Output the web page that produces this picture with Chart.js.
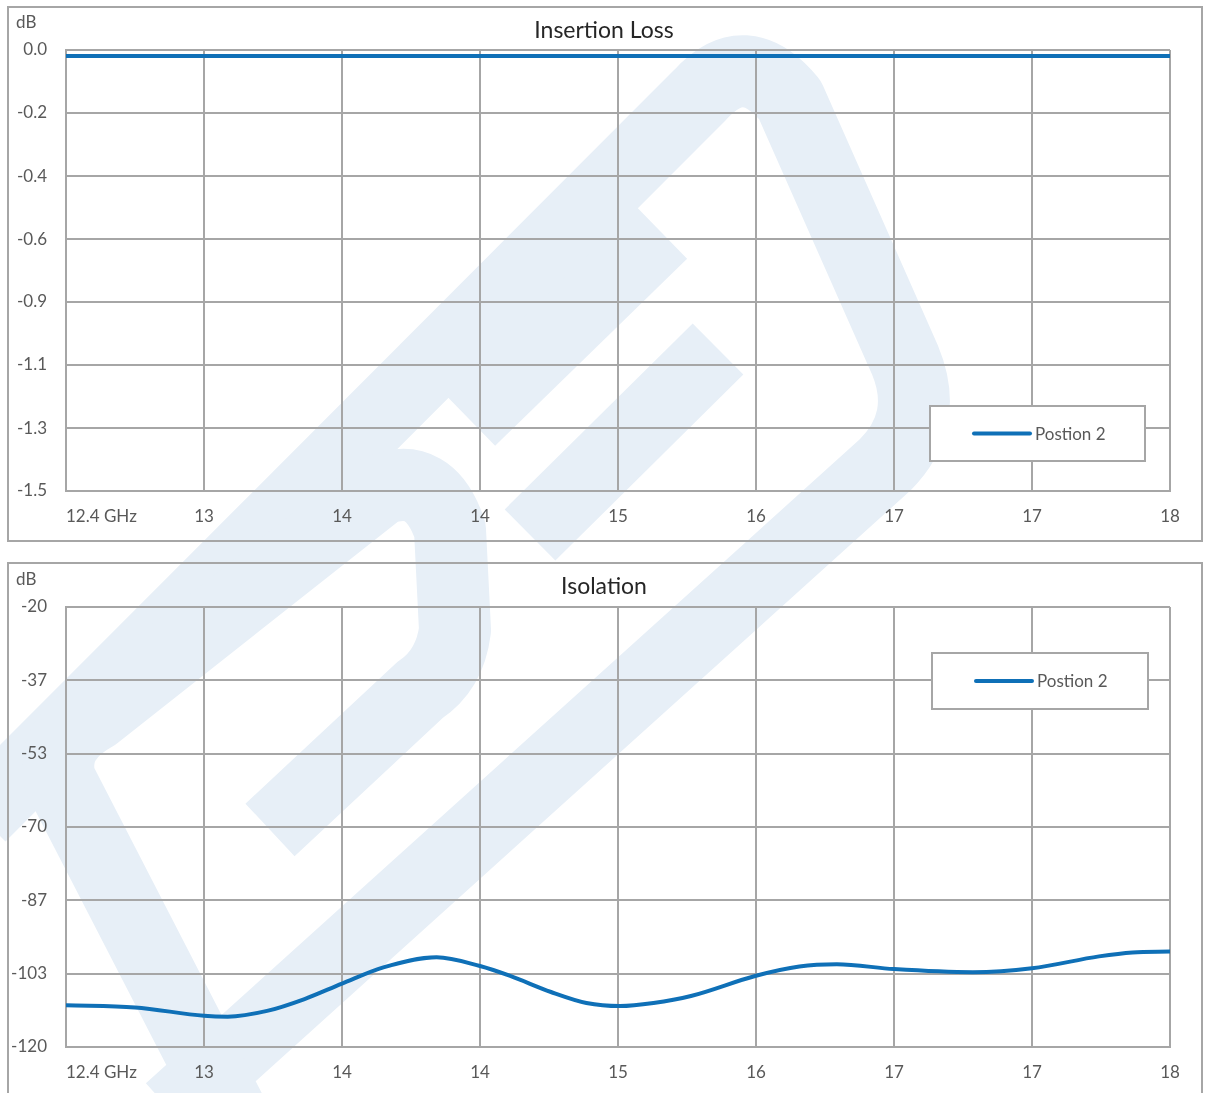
<!DOCTYPE html>
<html>
<head>
<meta charset="utf-8">
<script src="https://cdn.jsdelivr.net/npm/chart.js@4.4.1/dist/chart.umd.min.js"></script>
<style>
  body { margin: 0; background: #fff; width: 1207px; height: 1093px; overflow: hidden; position: relative; }
  #mark { position: absolute; left: 0; top: 0; }
  .box { position: absolute; left: 7px; width: 1192px; height: 532px; border: 2px solid #a6a6a6; }
  .box canvas { display: block; }
</style>
</head>
<body>
<svg id="mark" width="1207" height="1093">
  <g fill="none" stroke="#e7eff7" stroke-width="72" stroke-linejoin="round">
    <path d="M -20 816 L 700 95 Q 745 45 790 100 L 905 360 Q 930 420 885 465 L 170 1110"/>
    <path d="M 662 233 L 470 420"/>
    <path d="M 718 349 L 530 535"/>
    <path d="M 230 1110 L 60 780 Q 50 740 95 715 L 380 490 Q 430 470 450 530 L 455 630 Q 450 670 420 690 L 270 830"/>
  </g>
</svg>
<div class="box" style="top:6px"><canvas id="lossChart" width="1192" height="532"></canvas></div>
<div class="box" style="top:562px"><canvas id="isoChart" width="1192" height="532"></canvas></div>
<script>
// frequency axis (GHz)
const xTickValues = [12.4, 13.1, 13.8, 14.5, 15.2, 15.9, 16.6, 17.3, 18.0];
const xTickLabels = ['12.4 GHz', '13', '14', '14', '15', '16', '17', '17', '18'];

// insertion loss, dB
const lossFreq = [12.4, 13.8, 15.2, 16.6, 18.0];
const lossValues = [-0.02, -0.02, -0.02, -0.02, -0.02];
const lossTickValues = [0, -0.214, -0.429, -0.643, -0.857, -1.071, -1.286, -1.5];
const lossTickLabels = ['0.0', '-0.2', '-0.4', '-0.6', '-0.9', '-1.1', '-1.3', '-1.5'];

// isolation, dB
const isoFreq = [12.4, 12.75, 13.1, 13.22, 13.42, 13.61, 13.8, 14.01, 14.28, 14.5, 14.65, 14.86,
                 15.04, 15.21, 15.38, 15.57, 15.9, 16.12, 16.31, 16.6, 17.0, 17.3, 17.64, 17.81, 18.0];
const isoValues = [-110.5, -111.0, -112.9, -113.1, -111.8, -109.1, -105.6, -101.9, -99.6, -101.6, -103.8, -107.5,
                   -110.0, -110.7, -110.0, -108.4, -103.8, -101.7, -101.2, -102.3, -103.0, -102.1, -99.4, -98.5, -98.3];
const isoTickValues = [-20, -36.67, -53.33, -70, -86.67, -103.33, -120];
const isoTickLabels = ['-20', '-37', '-53', '-70', '-87', '-103', '-120'];

const seriesName = 'Postion 2';
const gridColor = '#a6a6a6';
const textColor = '#595959';
const lineColor = '#0f70b7';
const fontFamily = 'Lato';

// title, unit label, x labels and legend box drawn by hand like Excel does
const decorPlugin = {
  id: 'decor',
  beforeDraw(chart) {
    const o = chart.options.plugins.decor;
    if (o.labelBackdrop) {
      const ctx = chart.ctx;
      ctx.save();
      ctx.fillStyle = '#fff';
      ctx.fillRect(o.labelBackdrop[0], o.labelBackdrop[1], o.labelBackdrop[2], o.labelBackdrop[3]);
      ctx.restore();
    }
  },
  afterDraw(chart) {
    const o = chart.options.plugins.decor;
    const ctx = chart.ctx;
    const xs = chart.scales.x;
    ctx.save();
    ctx.fillStyle = '#262626';
    ctx.font = '23px ' + fontFamily;
    ctx.textAlign = 'center';
    ctx.textBaseline = 'middle';
    ctx.fillText(o.title, o.titleX, o.titleY);

    ctx.fillStyle = textColor;
    ctx.font = '17px ' + fontFamily;
    ctx.textAlign = 'left';
    ctx.fillText('dB', 7, o.unitY);

    xTickValues.forEach((v, i) => {
      const px = xs.getPixelForValue(v);
      ctx.textAlign = i === 0 ? 'left' : 'center';
      ctx.fillText(xTickLabels[i], px, chart.chartArea.bottom + 26);
    });

    const [lx, ly, lw, lh] = o.legendBox;
    ctx.fillStyle = '#fff';
    ctx.fillRect(lx, ly, lw, lh);
    ctx.strokeStyle = gridColor;
    ctx.lineWidth = 2;
    ctx.strokeRect(lx, ly, lw, lh);
    const ds = chart.data.datasets[0];
    ctx.strokeStyle = ds.borderColor;
    ctx.lineWidth = 4;
    ctx.lineCap = 'round';
    ctx.beginPath();
    ctx.moveTo(lx + 44, ly + lh / 2);
    ctx.lineTo(lx + 100, ly + lh / 2);
    ctx.stroke();
    ctx.fillStyle = textColor;
    ctx.textAlign = 'left';
    ctx.fillText(ds.label, lx + 105, ly + lh / 2 + 1);
    ctx.restore();
  }
};

function makeChart(id, freq, values, yMin, yMax, yTicks, yLabels, decor) {
  const ctx = document.getElementById(id).getContext('2d');
  return new Chart(ctx, {
    type: 'line',
    data: {
      datasets: [{
        label: seriesName,
        data: freq.map((f, i) => ({ x: f, y: values[i] })),
        borderColor: lineColor,
        borderWidth: 4,
        pointRadius: 0,
        cubicInterpolationMode: 'monotone',
        fill: false
      }]
    },
    options: {
      responsive: false,
      animation: false,
      layout: { padding: { left: 0, right: 31, top: decor.top, bottom: 0 } },
      plugins: { legend: { display: false }, tooltip: { enabled: false }, decor },
      scales: {
        x: {
          type: 'linear',
          min: 12.4,
          max: 18,
          afterBuildTicks: s => { s.ticks = xTickValues.map(v => ({ value: v })); },
          afterFit: s => { s.height = 49; },
          ticks: { display: false },
          grid: { color: gridColor, lineWidth: 2, drawTicks: false },
          border: { color: gridColor, width: 2 }
        },
        y: {
          min: yMin,
          max: yMax,
          afterBuildTicks: s => { s.ticks = yTicks.map(v => ({ value: v })); },
          afterFit: s => { s.width = 57; },
          ticks: {
            color: textColor,
            font: { family: fontFamily, size: 17 },
            padding: 19,
            callback: (v, i) => yLabels[i]
          },
          grid: { color: gridColor, lineWidth: 2, drawTicks: false },
          border: { color: gridColor, width: 2 }
        }
      }
    },
    plugins: [decorPlugin]
  });
}

makeChart('lossChart', lossFreq, lossValues, -1.5, 0, lossTickValues, lossTickLabels, {
  top: 42, title: 'Insertion Loss', titleX: 595, titleY: 23, unitY: 15,
  legendBox: [921, 398, 215, 55]
});

makeChart('isoChart', isoFreq, isoValues, -120, -20, isoTickValues, isoTickLabels, {
  top: 43, title: 'Isolation', titleX: 595, titleY: 23, unitY: 16,
  legendBox: [923, 89, 216, 56], labelBackdrop: [49, 491, 88, 41]
});
</script>
</body>
</html>
